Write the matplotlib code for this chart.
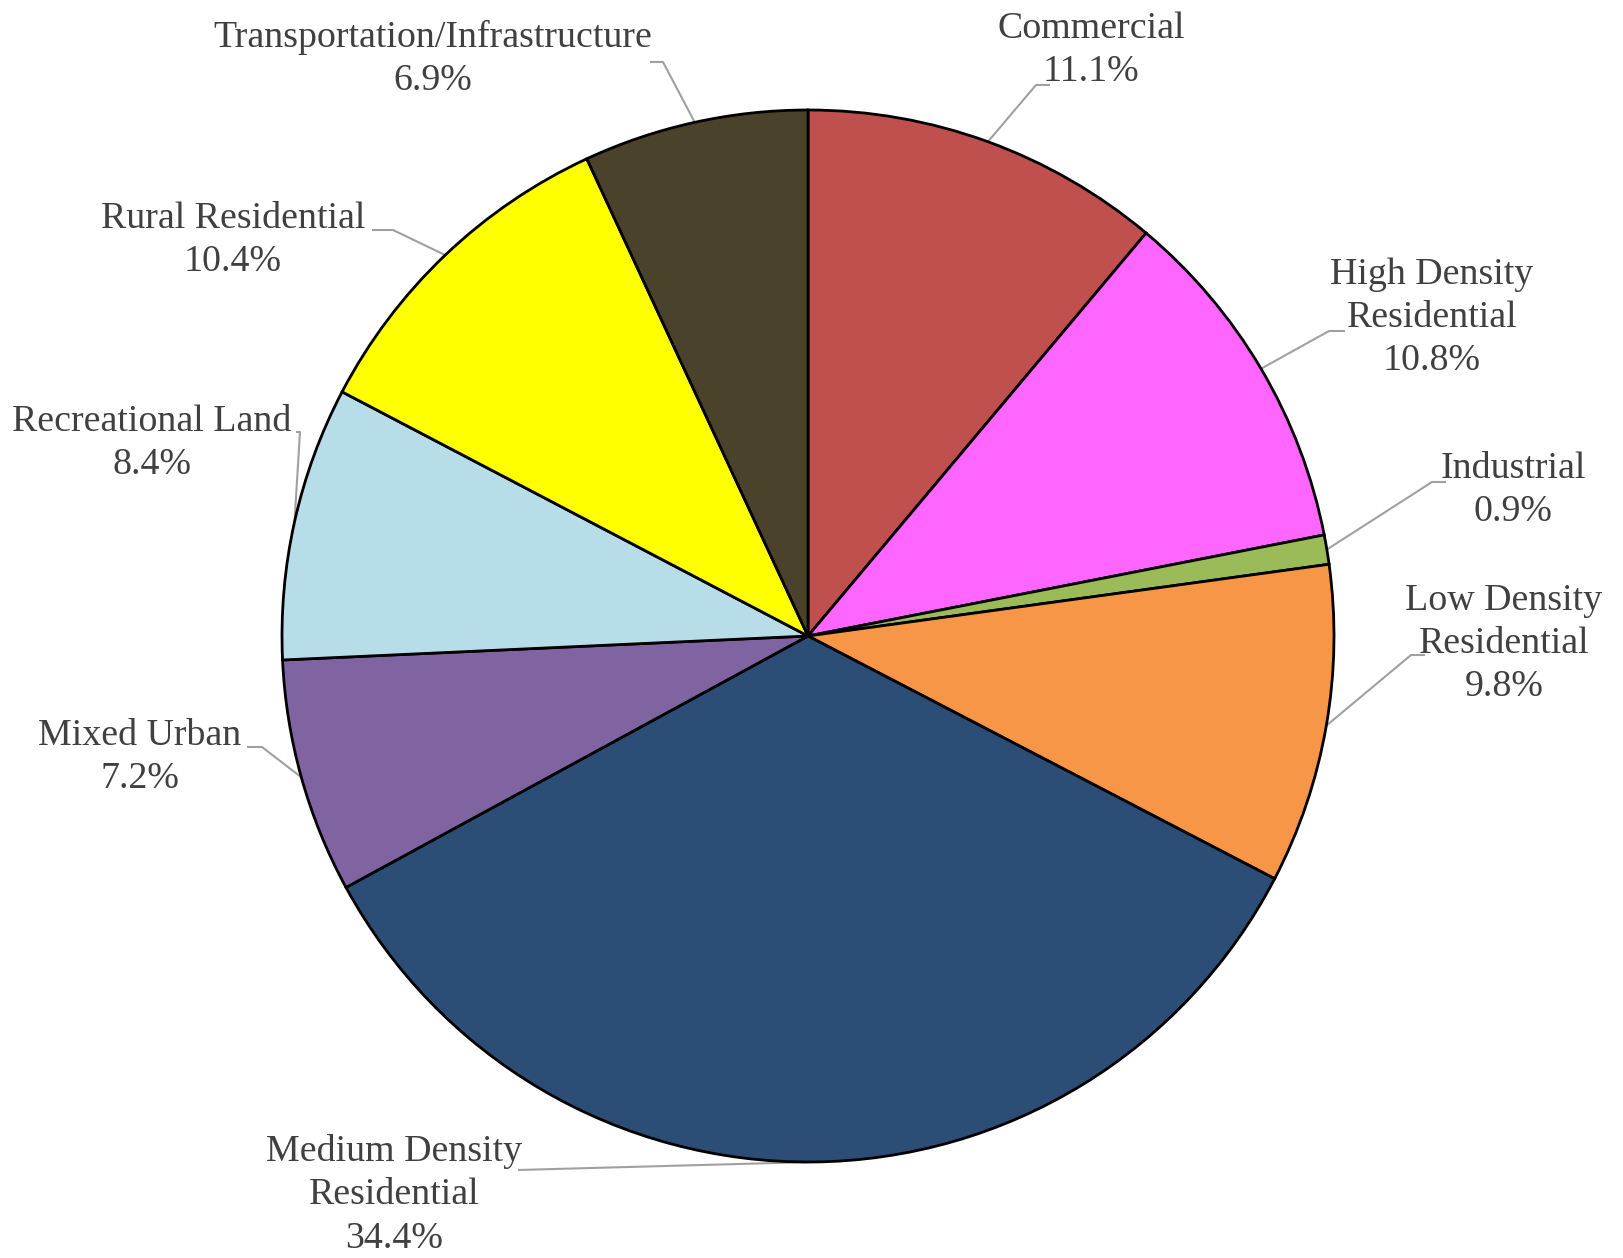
import numpy as np
import matplotlib
matplotlib.use("Agg")
import matplotlib.pyplot as plt

categories = ["Commercial", "High Density\nResidential", "Industrial",
              "Low Density\nResidential", "Medium Density\nResidential",
              "Mixed Urban", "Recreational Land", "Rural Residential",
              "Transportation/Infrastructure"]
values = [11.1, 10.8, 0.9, 9.8, 34.4, 7.2, 8.4, 10.4, 6.9]
colors = ["#C0504D", "#FF66FF", "#9BBB59", "#F79646", "#2C4D75",
          "#8064A2", "#B7DEE8", "#FFFF00", "#4A422A"]

W, H = 1624, 1258
fig = plt.figure(figsize=(W / 100, H / 100), dpi=100)
ax = fig.add_axes([0, 0, 1, 1])

cx, cy, R = 808, H - 636, 526
wedges, _ = ax.pie(values, colors=colors, startangle=90, counterclock=False,
                   center=(cx, cy), radius=R, frame=True,
                   wedgeprops=dict(edgecolor="black", linewidth=2.0))
ax.set_xlim(0, W)
ax.set_ylim(0, H)
ax.set_aspect("equal")
ax.axis("off")

# label layout: (text center x, text center y) in pixel coords (y down), elbow, horizontal end
layout = [
    dict(tx=1091, ty=50, elbow=(1036, 85), hend=(1050, 85)),
    dict(tx=1432, ty=318, elbow=(1329, 331), hend=(1345, 331)),
    dict(tx=1513, ty=490, elbow=(1432, 482), hend=(1446, 482)),
    dict(tx=1504, ty=644, elbow=(1411, 655), hend=(1425, 655)),
    dict(tx=394, ty=1195, elbow=(518, 1170), hend=(518, 1170)),
    dict(tx=140, ty=757, elbow=(262, 747), hend=(247, 747)),
    dict(tx=152, ty=443, elbow=(300, 432), hend=(296, 432)),
    dict(tx=233, ty=240, elbow=(393, 230), hend=(372, 230)),
    dict(tx=433, ty=59, elbow=(663, 62), hend=(650, 62)),
]

tcolor = "#404040"
font = dict(family=["Liberation Serif", "DejaVu Serif"], fontsize=27.3, color=tcolor)

for w, cat, val, lay in zip(wedges, categories, values, layout):
    ang = np.deg2rad((w.theta1 + w.theta2) / 2)
    ex, ey = cx + R * np.cos(ang), cy + R * np.sin(ang)
    elx, ely = lay["elbow"]
    hx, hy = lay["hend"]
    ax.plot([ex, elx, hx], [ey, H - ely, H - hy], color="#A0A0A0",
            linewidth=1.5, zorder=0.5, solid_capstyle="butt")
    ax.text(lay["tx"], H - lay["ty"], f"{cat}\n{val:.1f}%", ha="center",
            va="center", linespacing=1.33, **font)

fig.savefig("out.png", dpi=100)
